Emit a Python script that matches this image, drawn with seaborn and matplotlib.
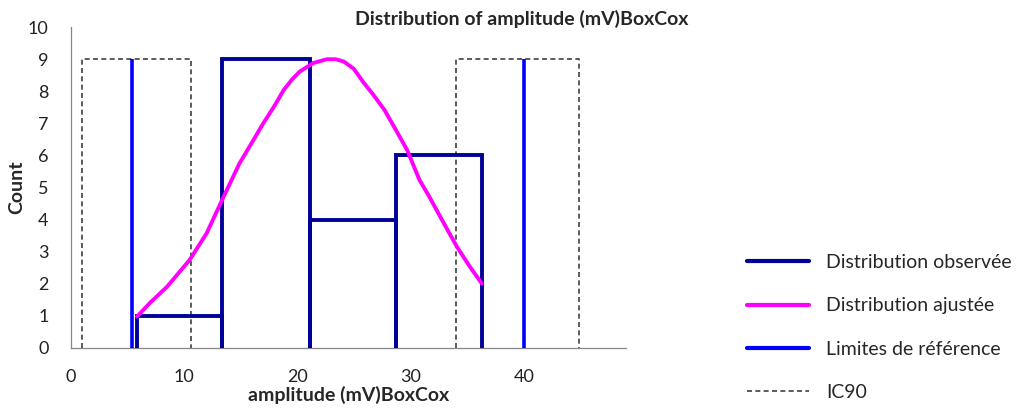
import numpy as np
import pandas as pd
import matplotlib
matplotlib.use("Agg")
import matplotlib.pyplot as plt
import seaborn as sns
from matplotlib.lines import Line2D

# ---- data ----
bin_edges = [5.85, 13.4, 21.15, 28.7, 36.3]
bin_counts = [1, 9, 4, 6]

fit_x = [5.85, 7.0, 8.5, 10.5, 12.0, 13.5, 14.9, 16.0, 17.0, 18.0, 18.8, 19.5,
         20.2, 21.4, 22.6, 23.4, 24.1, 25.0, 25.8, 26.7, 27.7, 28.7, 29.7,
         30.8, 31.6, 32.3, 33.2, 34.1, 35.2, 36.3]
fit_y = [0.97, 1.4, 1.9, 2.74, 3.57, 4.71, 5.75, 6.4, 7.0, 7.55, 8.04, 8.35,
         8.61, 8.88, 9.0, 9.0, 8.93, 8.7, 8.3, 7.9, 7.42, 6.8, 6.17,
         5.23, 4.75, 4.3, 3.72, 3.15, 2.55, 2.0]

ref_limits = [5.4, 40.0]
ref_height = 9

ic90_low = [1.0, 10.6]
ic90_high = [34.0, 44.9]
ic90_height = 9

x_ticks = [0, 10, 20, 30, 40]
y_ticks = list(range(0, 11))

title = "Distribution of amplitude (mV)BoxCox"
xlabel = "amplitude (mV)BoxCox"
ylabel = "Count"
legend_labels = ["Distribution observée", "Distribution ajustée",
                 "Limites de référence", "IC90"]

# ---- style ----
sns.set_style("white")
plt.rcParams['font.family'] = ['Lato', 'DejaVu Sans']

c_obs = "#000099"
c_fit = "#FF00FF"
c_ref = "#0000FF"
c_ic = "#404040"
c_axis = "#868686"

fig = plt.figure(figsize=(10.19, 4.12), dpi=100)
ax = fig.add_axes([0.0694, 0.156, 0.5446, 0.778])

# IC90 boxes (dashed)
for lo, hi in (ic90_low, ic90_high):
    ax.plot([lo, lo, hi, hi], [0, ic90_height, ic90_height, 0],
            color=c_ic, lw=1.2, ls=(0, (3, 2)), zorder=2)

# reference limits
ax.vlines(ref_limits, 0, ref_height, color=c_ref, lw=2.6, zorder=3)

# observed distribution: bar outlines without bottom
px, py = [], []
for i, h in enumerate(bin_counts):
    l, r = bin_edges[i], bin_edges[i + 1]
    px += [l, l, r, r, np.nan]
    py += [0, h, h, 0, np.nan]
ax.plot(px, py, color=c_obs, lw=2.8, zorder=4, solid_joinstyle="miter")

# fitted curve
df_fit = pd.DataFrame({"x": fit_x, "y": fit_y})
sns.lineplot(data=df_fit, x="x", y="y", sort=False, color=c_fit, lw=2.8,
             ax=ax, zorder=5)

ax.set_xlim(0, 49)
ax.set_ylim(0, 10)
ax.set_xticks(x_ticks)
ax.set_yticks(y_ticks)
ax.tick_params(axis="both", which="both", direction="out", length=5,
               width=0.9, color=c_axis, labelsize=13, labelcolor="#222222")
ax.tick_params(axis="y", pad=11)
ax.tick_params(axis="x", pad=10)
for s in ("top", "right"):
    ax.spines[s].set_visible(False)
for s in ("left", "bottom"):
    ax.spines[s].set_color(c_axis)
    ax.spines[s].set_linewidth(0.9)

ax.set_xlabel(xlabel, fontsize=14, fontweight="bold", labelpad=1)
ax.set_ylabel(ylabel, fontsize=14, fontweight="bold", labelpad=2)
fig.text(0.512, 0.953, title, ha="center", va="center", fontsize=14,
         fontweight="bold")

handles = [
    Line2D([], [], color=c_obs, lw=3),
    Line2D([], [], color=c_fit, lw=3),
    Line2D([], [], color=c_ref, lw=3),
    Line2D([], [], color=c_ic, lw=1.2, ls=(0, (3, 2))),
]
fig.legend(handles, legend_labels, loc="center left",
           bbox_to_anchor=(0.716, 0.205), frameon=False, fontsize=14,
           handlelength=3.2, handletextpad=0.88, labelspacing=1.35)

fig.savefig("out.png", dpi=100)
